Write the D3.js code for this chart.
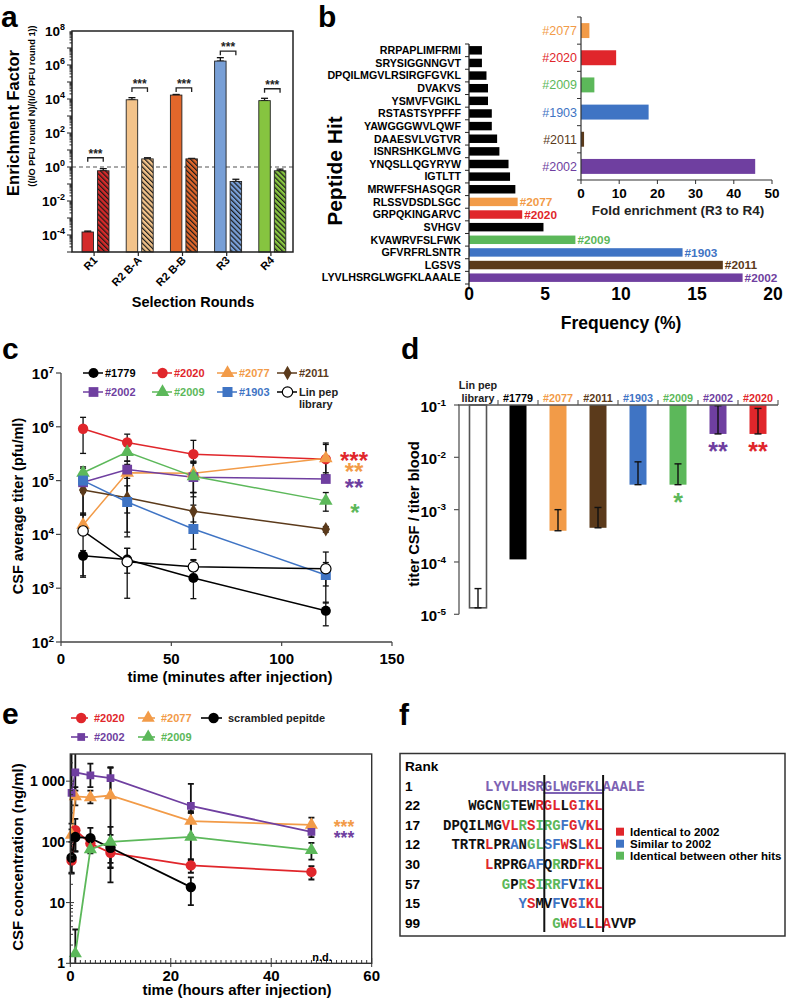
<!DOCTYPE html>
<html>
<head>
<meta charset="utf-8">
<script src="https://cdn.jsdelivr.net/npm/d3@7"></script>
<style>
  body { margin: 0; background: #fff; }
  svg { font-family: "Liberation Sans", Arial, sans-serif; font-weight: bold; }
</style>
</head>
<body>
<svg id="fig" width="787" height="999"></svg>
<script>
// ---- panel a: enrichment per selection round ----
const roundNames = ['R1', 'R2 B-A', 'R2 B-B', 'R3', 'R4'];
const roundColors = ['#d42a2a', '#f3c38a', '#e2672b', '#789fd6', '#86c440'];
const enrichIn = [1.5e-4, 9e3, 1.7e4, 1.7e6, 8e3];
const enrichInHi = [1.7e-4, 1.2e4, 1.85e4, 2.7e6, 1.1e4];
const enrichCtrl = [0.6, 3, 3, 0.14, 0.6];
const enrichCtrlHi = [0.8, 3.5, 3.2, 0.19, 0.75];
const bracketLevel = [3.5, 4.5e4, 4.5e4, 6.5e6, 4e4];

// ---- panel b: peptide hit frequency ----
const peptides = ['RRPAPLIMFRMI', 'SRYSIGGNNGVT', 'DPQILMGVLRSIRGFGVKL', 'DVAKVS', 'YSMVFVGIKL',
  'RSTASTSYPFFF', 'YAWGGGWVLQWF', 'DAAESVLVGTVR', 'ISNRSHKGLMVG', 'YNQSLLQGYRYW', 'IGTLTT',
  'MRWFFSHASQGR', 'RLSSVDSDLSGC', 'GRPQKINGARVC', 'SVHGV', 'KVAWRVFSLFWK', 'GFVRFRLSNTR',
  'LGSVS', 'LYVLHSRGLWGFKLAAALE'];
const frequency = [0.85, 0.85, 1.15, 1.25, 1.25, 1.5, 1.5, 1.85, 2.0, 2.6, 2.7, 3.05, 3.2, 3.5,
  4.9, 7.0, 14.05, 16.7, 18.0];
const hitIds = ['', '', '', '', '', '', '', '', '', '', '', '', '#2077', '#2020', '', '#2009',
  '#1903', '#2011', '#2002'];
const insetIds = ['#2077', '#2020', '#2009', '#1903', '#2011', '#2002'];
const foldEnrich = [2.2, 9.2, 3.5, 17.7, 0.8, 45.6];

const hitColor = {
  '#1779': '#000000', '#2020': '#e0262b', '#2077': '#f29b48', '#2011': '#5b3a1b',
  '#2002': '#6f3fa0', '#2009': '#5cb85a', '#1903': '#3f74c4', 'lin': '#000000'
};

// ---- panel c: CSF titer over time ----
const titerTimes = [10, 30, 60, 120];
const titer1779 = [4.0e3, 3.4e3, 1.55e3, 3.8e2];
const titer1779Lo = [1.6e3, 1.9e3, 6.4e2, 2.0e2];
const titer1779Hi = [5.0e3, 5.5e3, 3.4e3, 5.5e2];
const titer2020 = [9.2e5, 5.1e5, 3.1e5, 2.5e5];
const titer2020Lo = [3.2e5, 3.5e5, 2.2e5, 1.3e5];
const titer2020Hi = [1.5e6, 7.3e5, 5.6e5, 4.7e5];
const titer2077 = [1.5e4, 1.4e5, 1.37e5, 2.6e5];
const titer2077Lo = [1.0e4, 9e3, 6e4, 1.4e5];
const titer2077Hi = [2.5e4, 2.0e5, 2.2e5, 5.0e5];
const titer2011 = [6.7e4, 4.8e4, 2.7e4, 1.25e4];
const titer2011Lo = [2.3e4, 2.5e4, 1.7e4, 1.1e4];
const titer2011Hi = [9e4, 8e4, 6e4, 1.4e4];
const titer2002 = [9.3e4, 1.6e5, 1.16e5, 1.07e5];
const titer2002Lo = [6e4, 1.1e5, 6e4, 9.5e4];
const titer2002Hi = [1.3e5, 2.3e5, 2.1e5, 1.2e5];
const titer2009 = [1.4e5, 3.4e5, 1.2e5, 4.2e4];
const titer2009Lo = [1.0e5, 2.3e5, 5e4, 2.7e4];
const titer2009Hi = [1.8e5, 4.6e5, 2.3e5, 6e4];
const titer1903 = [1.0e5, 4.0e4, 1.26e4, 1.76e3];
const titer1903Lo = [2.3e4, 1.1e4, 5.3e3, 5.3e2];
const titer1903Hi = [1.7e5, 1.6e5, 3.5e4, 3.0e3];
const titerLin = [1.16e4, 3.1e3, 2.5e3, 2.3e3];
const titerLinLo = [1.7e3, 6.5e2, 1.8e3, 1.1e3];
const titerLinHi = [2.4e4, 5.5e3, 3.3e3, 4.7e3];

// ---- panel d: CSF / blood ratio ----
const ratioIds = ['lin', '#1779', '#2077', '#2011', '#1903', '#2009', '#2002', '#2020'];
const ratioValue = [1.33e-5, 1.12e-4, 3.95e-4, 4.5e-4, 3.0e-3, 3.0e-3, 2.8e-2, 2.8e-2];
const ratioHi = [3.1e-5, null, 1.0e-3, 1.1e-3, 8.2e-3, 7.5e-3, 0.097, 0.086];
const ratioStars = ['', '', '', '', '', '*', '**', '**'];

// ---- panel e: CSF peptide concentration ----
const hours = [0.25, 1, 4, 8, 24, 48];
const conc2020 = [49, 156, 94, 66, 41, 32];
const conc2020Lo = [31, 69, 80, 38, 31, 24];
const conc2020Hi = [60, 240, 110, 90, 52, 40];
const conc2077 = [130, 560, 540, 580, 220, 190];
const conc2077Lo = [100, 400, 430, 37, 130, 150];
const conc2077Hi = [160, 800, 700, 1650, 320, 250];
const conc2002 = [640, 1400, 1250, 1120, 390, 146];
const conc2002Lo = [200, 700, 800, 550, 300, 120];
const conc2002Hi = [3000, 3000, 1950, 1700, 900, 180];
const hoursScr = [0.25, 1, 4, 8, 24];
const concScr = [55, 120, 115, 80, 18];
const concScrLo = [30, 70, 90, 21.5, 9.1];
const concScrHi = [130, 170, 170, 177, 26];
const hours2009 = [1, 4, 8, 24, 48];
const conc2009 = [1.45, 75, 100, 121, 73];
const conc2009Lo = [0.5, 65, 45, 50, 51];
const conc2009Hi = [3.6, 85, 130, 300, 96];

// ---- panel f: alignment ----
const alignRanks = ['1', '22', '17', '12', '30', '57', '15', '99'];
const alignSeqs = ['LYVLHSRGLWGFKLAAALE', 'WGCNGTEWRGLLGIKL', 'DPQILMGVLRSIRGFGVKL',
  'TRTRLPRANGLSFWSLKL', 'LRPRGAFQRRDFKL', 'GPRSIRRFVIKL', 'YSMVFVGIKL', 'GWGLLLAVVP'];
const alignOffset = [0, -2, -5, -4, 0, 2, 4, 8];
const alignCodes = ['ppppppppppppppppppp', 'kkkkgkkkrrrkrbrr', 'kkkkkkkrrgrgggbrbrr',
  'kkkkrkkbkggbbrkbrr', 'rkkkkbbkgkkrrr', 'gkgrgggbkbrr', 'brkkbkrbrr', 'grrbkrrkkk'];
const alignLegend = ['Identical to 2002', 'Similar to 2002', 'Identical between other hits'];
const codeColor = { p: '#7d62b3', k: '#111111', r: '#e0262b', b: '#3f74c4', g: '#5cb85a' };

const svg = d3.select('#fig');
const defs = svg.append('defs');

function supText(g, x, y, exp, size, anchor) {
  const t = g.append('text').attr('x', x).attr('y', y)
    .attr('text-anchor', anchor).attr('font-size', size);
  t.append('tspan').text('10');
  t.append('tspan').attr('dy', -size * 0.42).attr('font-size', size * 0.66).text(exp);
}

function stars(g, x, yc, txt, color, size) {
  g.append('text').attr('x', x).attr('y', yc + size * 0.58).attr('text-anchor', 'middle')
    .attr('font-size', size).attr('fill', color).text(txt);
}

// a stacked column of significance marks kept in one text element
function starColumn(g, x, rows, size) {
  const t = g.append('text').attr('text-anchor', 'middle').attr('font-size', size);
  rows.forEach(r => {
    t.append('tspan').attr('x', x + (r.dx || 0)).attr('y', r.yc + size * 0.58)
      .attr('fill', r.color).text(r.txt);
  });
}

function vLabel(g, xc, yc, txt, size) {
  g.append('text').attr('transform', `translate(${xc + size * 0.36},${yc}) rotate(-90)`)
    .attr('text-anchor', 'middle').attr('font-size', size).text(txt);
}

function errBar(g, x, y1, y2, cap, width) {
  g.append('line').attr('x1', x).attr('x2', x).attr('y1', y1).attr('y2', y2)
    .attr('stroke', '#111').attr('stroke-width', width);
  [y1, y2].forEach(yy => {
    g.append('line').attr('x1', x - cap / 2).attr('x2', x + cap / 2).attr('y1', yy).attr('y2', yy)
      .attr('stroke', '#111').attr('stroke-width', width);
  });
}

function panelLetter(x, y, s) {
  svg.append('text').attr('x', x).attr('y', y).attr('font-size', 30).text(s);
}

// =============== panel a ===============
function drawA() {
  const g = svg.append('g');
  const x = d3.scaleBand().domain(roundNames).range([72, 293]);
  const xi = d3.scaleBand().domain(['in', 'ctrl']).range([10, 37]).paddingInner(0.26);
  const y = d3.scaleLog().domain([1e-5, 1e8]).range([252, 31]);

  roundColors.forEach((c, i) => {
    const p = defs.append('pattern').attr('id', 'hatch' + i).attr('patternUnits', 'userSpaceOnUse')
      .attr('width', 3.6).attr('height', 3.6).attr('patternTransform', 'rotate(-45)');
    p.append('rect').attr('width', 3.6).attr('height', 3.6).attr('fill', c);
    p.append('line').attr('x1', 0.5).attr('x2', 0.5).attr('y1', 0).attr('y2', 3.6)
      .attr('stroke', '#1a1a1a').attr('stroke-width', 1.4);
  });

  g.append('line').attr('x1', 72).attr('x2', 293).attr('y1', y(1)).attr('y2', y(1))
    .attr('stroke', '#555').attr('stroke-width', 1.2).attr('stroke-dasharray', '4,3');

  const bars = roundNames.flatMap((r, i) => [
    { r, k: 'in', v: enrichIn[i], hi: enrichInHi[i], fill: roundColors[i] },
    { r, k: 'ctrl', v: enrichCtrl[i], hi: enrichCtrlHi[i], fill: `url(#hatch${i})` }
  ]);
  const bw = xi.bandwidth();
  bars.forEach(d => {
    const cx = x(d.r) + xi(d.k) + bw / 2;
    errBar(g, cx, y(d.v), y(d.hi), 7, 1.3);
  });
  g.selectAll('rect.bar').data(bars).join('rect').attr('class', 'bar')
    .attr('x', d => x(d.r) + xi(d.k)).attr('width', bw)
    .attr('y', d => y(d.v)).attr('height', d => y.range()[0] - y(d.v))
    .attr('fill', d => d.fill).attr('stroke', '#222').attr('stroke-width', 0.9);

  roundNames.forEach((r, i) => {
    const x1 = x(r) + xi('in') + bw / 2, x2 = x(r) + xi('ctrl') + bw / 2, yb = y(bracketLevel[i]);
    g.append('path').attr('d', `M${x1},${yb + 4}V${yb}H${x2}V${yb + 4}`)
      .attr('fill', 'none').attr('stroke', '#222').attr('stroke-width', 1.3);
    stars(g, (x1 + x2) / 2, yb - 7, '***', '#222', 12);
  });

  g.append('rect').attr('x', 72).attr('y', 31).attr('width', 221).attr('height', 221)
    .attr('fill', 'none').attr('stroke', '#222').attr('stroke-width', 1.5);

  for (let e = -5; e <= 7; e++) {
    for (let m = 1; m <= 9; m++) {
      const v = m * Math.pow(10, e);
      g.append('line').attr('x1', 72).attr('x2', m === 1 ? 67 : 69.5)
        .attr('y1', y(v)).attr('y2', y(v)).attr('stroke', '#222').attr('stroke-width', 1);
    }
  }
  [-4, -2, 0, 2, 4, 6, 8].forEach(e => supText(g, 65, y(Math.pow(10, e)) + 5, e, 13.5, 'end'));

  roundNames.forEach(r => {
    const cx = x(r) + x.bandwidth() / 2;
    g.append('line').attr('x1', cx).attr('x2', cx).attr('y1', 252).attr('y2', 256)
      .attr('stroke', '#222').attr('stroke-width', 1.2);
    g.append('text').attr('transform', `translate(${cx + 4},${261}) rotate(-45)`)
      .attr('text-anchor', 'end').attr('font-size', 11).text(r);
  });

  g.append('text').attr('x', 193).attr('y', 307).attr('text-anchor', 'middle')
    .attr('font-size', 14.5).text('Selection Rounds');
  vLabel(g, 13, 123, 'Enrichment Factor', 16.5);
  vLabel(g, 32, 106, '((I/O PFU round N)/(I/O PFU round 1))', 9.2);
  panelLetter(1, 27, 'a');
}

// =============== panel b ===============
function drawB() {
  const g = svg.append('g');
  const y = d3.scaleBand().domain(peptides).range([44, 284]).paddingInner(0.33).paddingOuter(0.165);
  const x = d3.scaleLinear().domain([0, 20]).range([469, 773]);
  const bw = y.bandwidth();

  g.selectAll('rect.pb').data(peptides).join('rect').attr('class', 'pb')
    .attr('x', x(0)).attr('y', d => y(d)).attr('height', bw)
    .attr('width', (d, i) => x(frequency[i]) - x(0))
    .attr('fill', (d, i) => hitColor[hitIds[i]] || '#000');

  g.selectAll('text.pl').data(peptides).join('text').attr('class', 'pl')
    .attr('x', 461).attr('y', d => y(d) + bw / 2 + 3.8).attr('text-anchor', 'end')
    .attr('font-size', 10.7).text(d => d);

  peptides.forEach((p, i) => {
    if (!hitIds[i]) return;
    g.append('text').attr('x', x(frequency[i]) + 2).attr('y', y(p) + bw / 2 + 4.2)
      .attr('font-size', 11.8).attr('fill', hitColor[hitIds[i]]).text(hitIds[i]);
  });

  g.append('line').attr('x1', x(0)).attr('x2', x(0)).attr('y1', 44).attr('y2', 288)
    .attr('stroke', '#222').attr('stroke-width', 1.3);
  d3.range(peptides.length + 1).forEach(i => {
    const yy = 44 + i * y.step();
    g.append('line').attr('x1', x(0) - 4).attr('x2', x(0)).attr('y1', yy).attr('y2', yy)
      .attr('stroke', '#222').attr('stroke-width', 1);
  });
  x.ticks(4).forEach(t => {
    g.append('text').attr('x', x(t)).attr('y', 300).attr('text-anchor', 'middle')
      .attr('font-size', 17.5).text(t);
  });
  g.append('text').attr('x', 621).attr('y', 329).attr('text-anchor', 'middle')
    .attr('font-size', 17.5).text('Frequency (%)');
  vLabel(g, 334, 171, 'Peptide Hit', 21);
  panelLetter(318, 27, 'b');

  // inset
  const yi = d3.scaleBand().domain(insetIds).range([17, 180]).paddingInner(0.45).paddingOuter(0.225);
  const xi = d3.scaleLinear().domain([0, 50]).range([581, 772]);
  g.selectAll('rect.ib').data(insetIds).join('rect').attr('class', 'ib')
    .attr('x', xi(0)).attr('y', d => yi(d)).attr('height', yi.bandwidth())
    .attr('width', (d, i) => xi(foldEnrich[i]) - xi(0)).attr('fill', d => hitColor[d]);
  g.selectAll('text.il').data(insetIds).join('text').attr('class', 'il')
    .attr('x', 577).attr('y', d => yi(d) + yi.bandwidth() / 2 + 4.5).attr('text-anchor', 'end')
    .attr('font-size', 12.5).attr('font-weight', 'normal').attr('fill', d => hitColor[d]).text(d => d);
  g.append('line').attr('x1', xi(0)).attr('x2', xi(0)).attr('y1', 17).attr('y2', 180)
    .attr('stroke', '#333').attr('stroke-width', 1.2);
  d3.range(insetIds.length + 1).forEach(i => {
    const yy = 17 + i * yi.step();
    g.append('line').attr('x1', xi(0) - 4).attr('x2', xi(0)).attr('y1', yy).attr('y2', yy)
      .attr('stroke', '#333').attr('stroke-width', 1);
  });
  g.append('line').attr('x1', xi(0)).attr('x2', xi(50)).attr('y1', 180).attr('y2', 180)
    .attr('stroke', '#333').attr('stroke-width', 1.2);
  xi.ticks(5).forEach(t => {
    g.append('line').attr('x1', xi(t)).attr('x2', xi(t)).attr('y1', 180).attr('y2', 184)
      .attr('stroke', '#333').attr('stroke-width', 1);
    g.append('text').attr('x', xi(t)).attr('y', 197.5).attr('text-anchor', 'middle')
      .attr('font-size', 13.5).text(t);
  });
  g.append('text').attr('x', 678).attr('y', 215).attr('text-anchor', 'middle')
    .attr('font-size', 13.5).attr('fill', '#222').text('Fold enrichment (R3 to R4)');
}

// shared marker drawing
function marker(g, shape, size, cx, cy, fill, stroke) {
  g.append('path').attr('d', d3.symbol().type(shape).size(size)())
    .attr('transform', `translate(${cx},${cy})`).attr('fill', fill)
    .attr('stroke', stroke).attr('stroke-width', 1.2);
}

// =============== panel c ===============
function drawC() {
  const g = svg.append('g');
  const x = d3.scaleLinear().domain([0, 150]).range([61, 392]);
  const y = d3.scaleLog().domain([1e2, 1e7]).range([642, 373]);
  const series = [
    { id: '#1779', shape: d3.symbolCircle, size: 80, mean: titer1779, lo: titer1779Lo, hi: titer1779Hi },
    { id: '#2020', shape: d3.symbolCircle, size: 85, mean: titer2020, lo: titer2020Lo, hi: titer2020Hi },
    { id: '#2077', shape: d3.symbolTriangle, size: 80, mean: titer2077, lo: titer2077Lo, hi: titer2077Hi },
    { id: '#2011', shape: d3.symbolDiamond, size: 60, mean: titer2011, lo: titer2011Lo, hi: titer2011Hi },
    { id: '#2002', shape: d3.symbolSquare, size: 95, mean: titer2002, lo: titer2002Lo, hi: titer2002Hi },
    { id: '#2009', shape: d3.symbolTriangle, size: 80, mean: titer2009, lo: titer2009Lo, hi: titer2009Hi },
    { id: '#1903', shape: d3.symbolSquare, size: 100, mean: titer1903, lo: titer1903Lo, hi: titer1903Hi },
    { id: 'lin', shape: d3.symbolCircle, size: 85, mean: titerLin, lo: titerLinLo, hi: titerLinHi }
  ];
  series.forEach(s => titerTimes.forEach((t, i) => errBar(g, x(t), y(s.lo[i]), y(s.hi[i]), 6, 1.3)));
  const line = d3.line().x((d, i) => x(titerTimes[i])).y(d => y(d));
  series.forEach(s => {
    g.append('path').attr('d', line(s.mean)).attr('fill', 'none')
      .attr('stroke', hitColor[s.id]).attr('stroke-width', 1.5);
  });
  series.forEach(s => titerTimes.forEach((t, i) => {
    const open = s.id === 'lin';
    marker(g, s.shape, s.size, x(t), y(s.mean[i]), open ? '#fff' : hitColor[s.id], open ? '#000' : 'none');
  }));

  g.append('line').attr('x1', 61).attr('x2', 61).attr('y1', 373).attr('y2', 642)
    .attr('stroke', '#444').attr('stroke-width', 1.3);
  g.append('line').attr('x1', 61).attr('x2', 392).attr('y1', 642).attr('y2', 642)
    .attr('stroke', '#444').attr('stroke-width', 1.3);
  d3.range(2, 8).forEach(e => {
    const yy = y(Math.pow(10, e));
    g.append('line').attr('x1', 56).attr('x2', 61).attr('y1', yy).attr('y2', yy)
      .attr('stroke', '#444').attr('stroke-width', 1.2);
    supText(g, 54, yy + 6, e, 15, 'end');
  });
  [0, 50, 100, 150].forEach(t => {
    g.append('line').attr('x1', x(t)).attr('x2', x(t)).attr('y1', 642).attr('y2', 646)
      .attr('stroke', '#444').attr('stroke-width', 1.2);
    g.append('text').attr('x', x(t)).attr('y', 664).attr('text-anchor', 'middle')
      .attr('font-size', 15).text(t);
  });
  g.append('text').attr('x', 230).attr('y', 682).attr('text-anchor', 'middle')
    .attr('font-size', 15).text('time (minutes after injection)');
  vLabel(g, 18, 506, 'CSF average titer (pfu/ml)', 14.5);

  // legend
  const colX = [83, 152, 217, 277], rowY = [373, 392];
  series.forEach((s, i) => {
    const lx = colX[i % 4], ly = rowY[Math.floor(i / 4)];
    g.append('line').attr('x1', lx).attr('x2', lx + 20).attr('y1', ly).attr('y2', ly)
      .attr('stroke', hitColor[s.id]).attr('stroke-width', 1.5);
    const open = s.id === 'lin';
    marker(g, s.shape, s.size, lx + 10.5, ly, open ? '#fff' : hitColor[s.id], open ? '#000' : 'none');
    const t = g.append('text').attr('x', lx + 22).attr('y', ly + 4).attr('font-size', 11)
      .attr('fill', open ? '#222' : hitColor[s.id]);
    if (open) {
      t.text('Lin pep');
      g.append('text').attr('x', lx + 22).attr('y', ly + 16).attr('font-size', 11)
        .attr('fill', '#222').text('library');
    } else t.text(s.id);
  });

  starColumn(g, 354, [
    { yc: 455, txt: '***', color: hitColor['#2020'] },
    { yc: 466.5, txt: '**', color: hitColor['#2077'] },
    { yc: 482, txt: '**', color: hitColor['#2002'] },
    { yc: 507, txt: '*', color: hitColor['#2009'], dx: 1 }
  ], 24);
  panelLetter(2, 359, 'c');
}

// =============== panel d ===============
function drawD() {
  const g = svg.append('g');
  const x = d3.scaleBand().domain(ratioIds).range([458, 778]).paddingInner(0.575).paddingOuter(0.2875);
  const y = d3.scaleLog().domain([1e-5, 1e-1]).range([614.3, 405]);
  const bw = x.bandwidth();

  g.selectAll('rect.rb').data(ratioIds).join('rect').attr('class', 'rb')
    .attr('x', d => x(d)).attr('width', bw).attr('y', y(1e-1))
    .attr('height', (d, i) => y(ratioValue[i]) - y(1e-1))
    .attr('fill', d => d === 'lin' ? '#fff' : hitColor[d])
    .attr('stroke', d => d === 'lin' ? '#555' : 'none').attr('stroke-width', 1.6);

  ratioIds.forEach((id, i) => {
    if (ratioHi[i] == null) return;
    errBar(g, x(id) + bw / 2, y(ratioValue[i]), y(ratioHi[i]), 7, 1.4);
  });

  g.append('line').attr('x1', 458).attr('x2', 778).attr('y1', 405).attr('y2', 405)
    .attr('stroke', '#555').attr('stroke-width', 1.3);
  g.append('line').attr('x1', 459).attr('x2', 459).attr('y1', 405).attr('y2', 614.3)
    .attr('stroke', '#555').attr('stroke-width', 1.3);
  d3.range(1, ratioIds.length + 1).forEach(i => {
    const xx = 458 + i * x.step();
    g.append('line').attr('x1', xx).attr('x2', xx).attr('y1', 400).attr('y2', 405)
      .attr('stroke', '#555').attr('stroke-width', 1.1);
  });
  d3.range(-5, 0).forEach(e => {
    const yy = y(Math.pow(10, e));
    g.append('line').attr('x1', 454).attr('x2', 459).attr('y1', yy).attr('y2', yy)
      .attr('stroke', '#555').attr('stroke-width', 1.2);
    supText(g, 446, yy + 7, e, 15, 'end');
  });
  ratioIds.forEach((id, i) => {
    const cx = x(id) + bw / 2;
    if (id === 'lin') {
      g.append('text').attr('x', cx).attr('y', 389).attr('text-anchor', 'middle')
        .attr('font-size', 10.8).attr('fill', '#222').text('Lin pep');
      g.append('text').attr('x', cx).attr('y', 402).attr('text-anchor', 'middle')
        .attr('font-size', 10.8).attr('fill', '#222').text('library');
    } else {
      g.append('text').attr('x', cx).attr('y', 402).attr('text-anchor', 'middle')
        .attr('font-size', 10.8).attr('fill', hitColor[id]).text(id);
    }
    if (ratioStars[i]) {
      const yc = ratioStars[i] === '*' ? 496.5 : 445;
      stars(g, cx, yc, ratioStars[i], hitColor[id], 25);
    }
  });
  vLabel(g, 414, 514, 'titer CSF / titer blood', 14.7);
  panelLetter(401, 359, 'd');
}

// =============== panel e ===============
function drawE() {
  const g = svg.append('g');
  const x = d3.scaleLinear().domain([0, 60]).range([70.3, 371.7]);
  const y = d3.scaleLog().domain([1, 2800]).range([963.3, 754]);
  defs.append('clipPath').attr('id', 'clipE').append('rect')
    .attr('x', 60).attr('y', 754).attr('width', 320).attr('height', 209.3);
  const series = [
    { id: '#2020', t: hours, shape: d3.symbolCircle, size: 85, m: conc2020, lo: conc2020Lo, hi: conc2020Hi },
    { id: '#2077', t: hours, shape: d3.symbolTriangle, size: 75, m: conc2077, lo: conc2077Lo, hi: conc2077Hi },
    { id: '#1779', t: hoursScr, shape: d3.symbolCircle, size: 85, m: concScr, lo: concScrLo, hi: concScrHi },
    { id: '#2002', t: hours, shape: d3.symbolSquare, size: 60, m: conc2002, lo: conc2002Lo, hi: conc2002Hi },
    { id: '#2009', t: hours2009, shape: d3.symbolTriangle, size: 75, m: conc2009, lo: conc2009Lo, hi: conc2009Hi }
  ];
  const plot = g.append('g').attr('clip-path', 'url(#clipE)');
  series.forEach(s => s.t.forEach((t, i) => errBar(plot, x(t), y(s.lo[i]), y(s.hi[i]), 6, 1.8)));
  series.forEach(s => {
    const line = d3.line().x((d, i) => x(s.t[i])).y(d => y(d));
    plot.append('path').attr('d', line(s.m)).attr('fill', 'none')
      .attr('stroke', hitColor[s.id]).attr('stroke-width', 1.8);
  });
  series.forEach(s => s.t.forEach((t, i) => marker(plot, s.shape, s.size, x(t), y(s.m[i]), hitColor[s.id], 'none')));

  g.append('rect').attr('x', 70.3).attr('y', 754).attr('width', 301.4).attr('height', 209.3)
    .attr('fill', 'none').attr('stroke', '#333').attr('stroke-width', 1.4);
  d3.range(0, 61).forEach(t => {
    const major = t % 20 === 0;
    g.append('line').attr('x1', x(t)).attr('x2', x(t))
      .attr('y1', major ? 967 : 963.3).attr('y2', major ? 958 : 960)
      .attr('stroke', '#333').attr('stroke-width', 1);
  });
  [0, 20, 40, 60].forEach(t => {
    g.append('text').attr('x', x(t)).attr('y', 981).attr('text-anchor', 'middle')
      .attr('font-size', 15).text(t);
  });
  for (let e = 0; e <= 3; e++) {
    for (let m = 1; m <= 9; m++) {
      const v = m * Math.pow(10, e);
      if (v > 2800) continue;
      g.append('line').attr('x1', m === 1 ? 66 : 70.3).attr('x2', m === 1 ? 74 : 73)
        .attr('y1', y(v)).attr('y2', y(v)).attr('stroke', '#333').attr('stroke-width', 1);
    }
  }
  [[1, '1'], [10, '10'], [100, '100'], [1000, '1 000']].forEach(([v, s]) => {
    g.append('text').attr('x', 65).attr('y', y(v) + 5).attr('text-anchor', 'end')
      .attr('font-size', 14).text(s);
  });
  g.append('text').attr('x', 237).attr('y', 995).attr('text-anchor', 'middle')
    .attr('font-size', 15).text('time (hours after injection)');
  vLabel(g, 18, 857, 'CSF concentration (ng/ml)', 15);
  g.append('text').attr('x', 322).attr('y', 961).attr('text-anchor', 'middle')
    .attr('font-size', 11).text('n.d.');
  starColumn(g, 344, [
    { yc: 822.5, txt: '***', color: hitColor['#2077'] },
    { yc: 834, txt: '***', color: hitColor['#2002'] }
  ], 17.5);

  // legend
  const leg = [
    { s: series[0], lx: 71, ly: 718, len: 17, label: '#2020' },
    { s: series[1], lx: 138, ly: 718, len: 17, label: '#2077' },
    { s: series[2], lx: 201, ly: 718, len: 21, label: 'scrambled pepitde' },
    { s: series[3], lx: 71, ly: 737, len: 17, label: '#2002' },
    { s: series[4], lx: 138, ly: 737, len: 17, label: '#2009' }
  ];
  leg.forEach(l => {
    const c = hitColor[l.s.id];
    g.append('line').attr('x1', l.lx).attr('x2', l.lx + l.len).attr('y1', l.ly).attr('y2', l.ly)
      .attr('stroke', c).attr('stroke-width', 1.6);
    marker(g, l.s.shape, l.s.size, l.lx + l.len * 0.6, l.ly, c, 'none');
    g.append('text').attr('x', l.lx + l.len + 6).attr('y', l.ly + 4).attr('font-size', 11)
      .attr('fill', l.s.id === '#1779' ? '#222' : c).text(l.label);
  });
  panelLetter(2, 724, 'e');
}

// =============== panel f ===============
function drawF() {
  const g = svg.append('g');
  const col = d3.scaleLinear().domain([0, 1]).range([485, 493.4]);
  const row = d3.scalePoint().domain(d3.range(alignSeqs.length)).range([790.5, 928]);

  g.append('rect').attr('x', 400).attr('y', 753.5).attr('width', 385).attr('height', 182.5)
    .attr('fill', 'none').attr('stroke', '#333').attr('stroke-width', 1.5);
  g.append('text').attr('x', 405).attr('y', 771).attr('font-size', 13.6).text('Rank');
  alignRanks.forEach((r, i) => {
    g.append('text').attr('x', 405).attr('y', row(i)).attr('font-size', 13.6).text(r);
  });
  alignSeqs.forEach((seq, i) => {
    const chars = seq.split('').map((c, j) => ({ c, j, code: alignCodes[i][j] }));
    g.selectAll(null).data(chars).join('text')
      .attr('x', d => col(alignOffset[i] + d.j)).attr('y', row(i))
      .attr('font-family', '"Liberation Mono", "Courier New", monospace')
      .attr('font-size', 14).attr('fill', d => codeColor[d.code]).text(d => d.c);
  });
  g.append('line').attr('x1', col(7)).attr('x2', col(14)).attr('y1', 793).attr('y2', 793)
    .attr('stroke', codeColor.p).attr('stroke-width', 1.8);
  [7, 14].forEach(c => {
    g.append('line').attr('x1', col(c) + 0.5).attr('x2', col(c) + 0.5).attr('y1', 775).attr('y2', 932)
      .attr('stroke', '#111').attr('stroke-width', 2);
  });
  const legCol = [codeColor.r, codeColor.b, codeColor.g];
  const legY = d3.scalePoint().domain(d3.range(3)).range([831.7, 855.7]);
  alignLegend.forEach((t, i) => {
    g.append('rect').attr('x', 616).attr('y', legY(i) - 4).attr('width', 8).attr('height', 8)
      .attr('fill', legCol[i]);
    g.append('text').attr('x', 630).attr('y', legY(i) + 4.3).attr('font-size', 11.5).text(t);
  });
  panelLetter(399, 725, 'f');
}

drawA();
drawB();
drawC();
drawD();
drawE();
drawF();
</script>
</body>
</html>
